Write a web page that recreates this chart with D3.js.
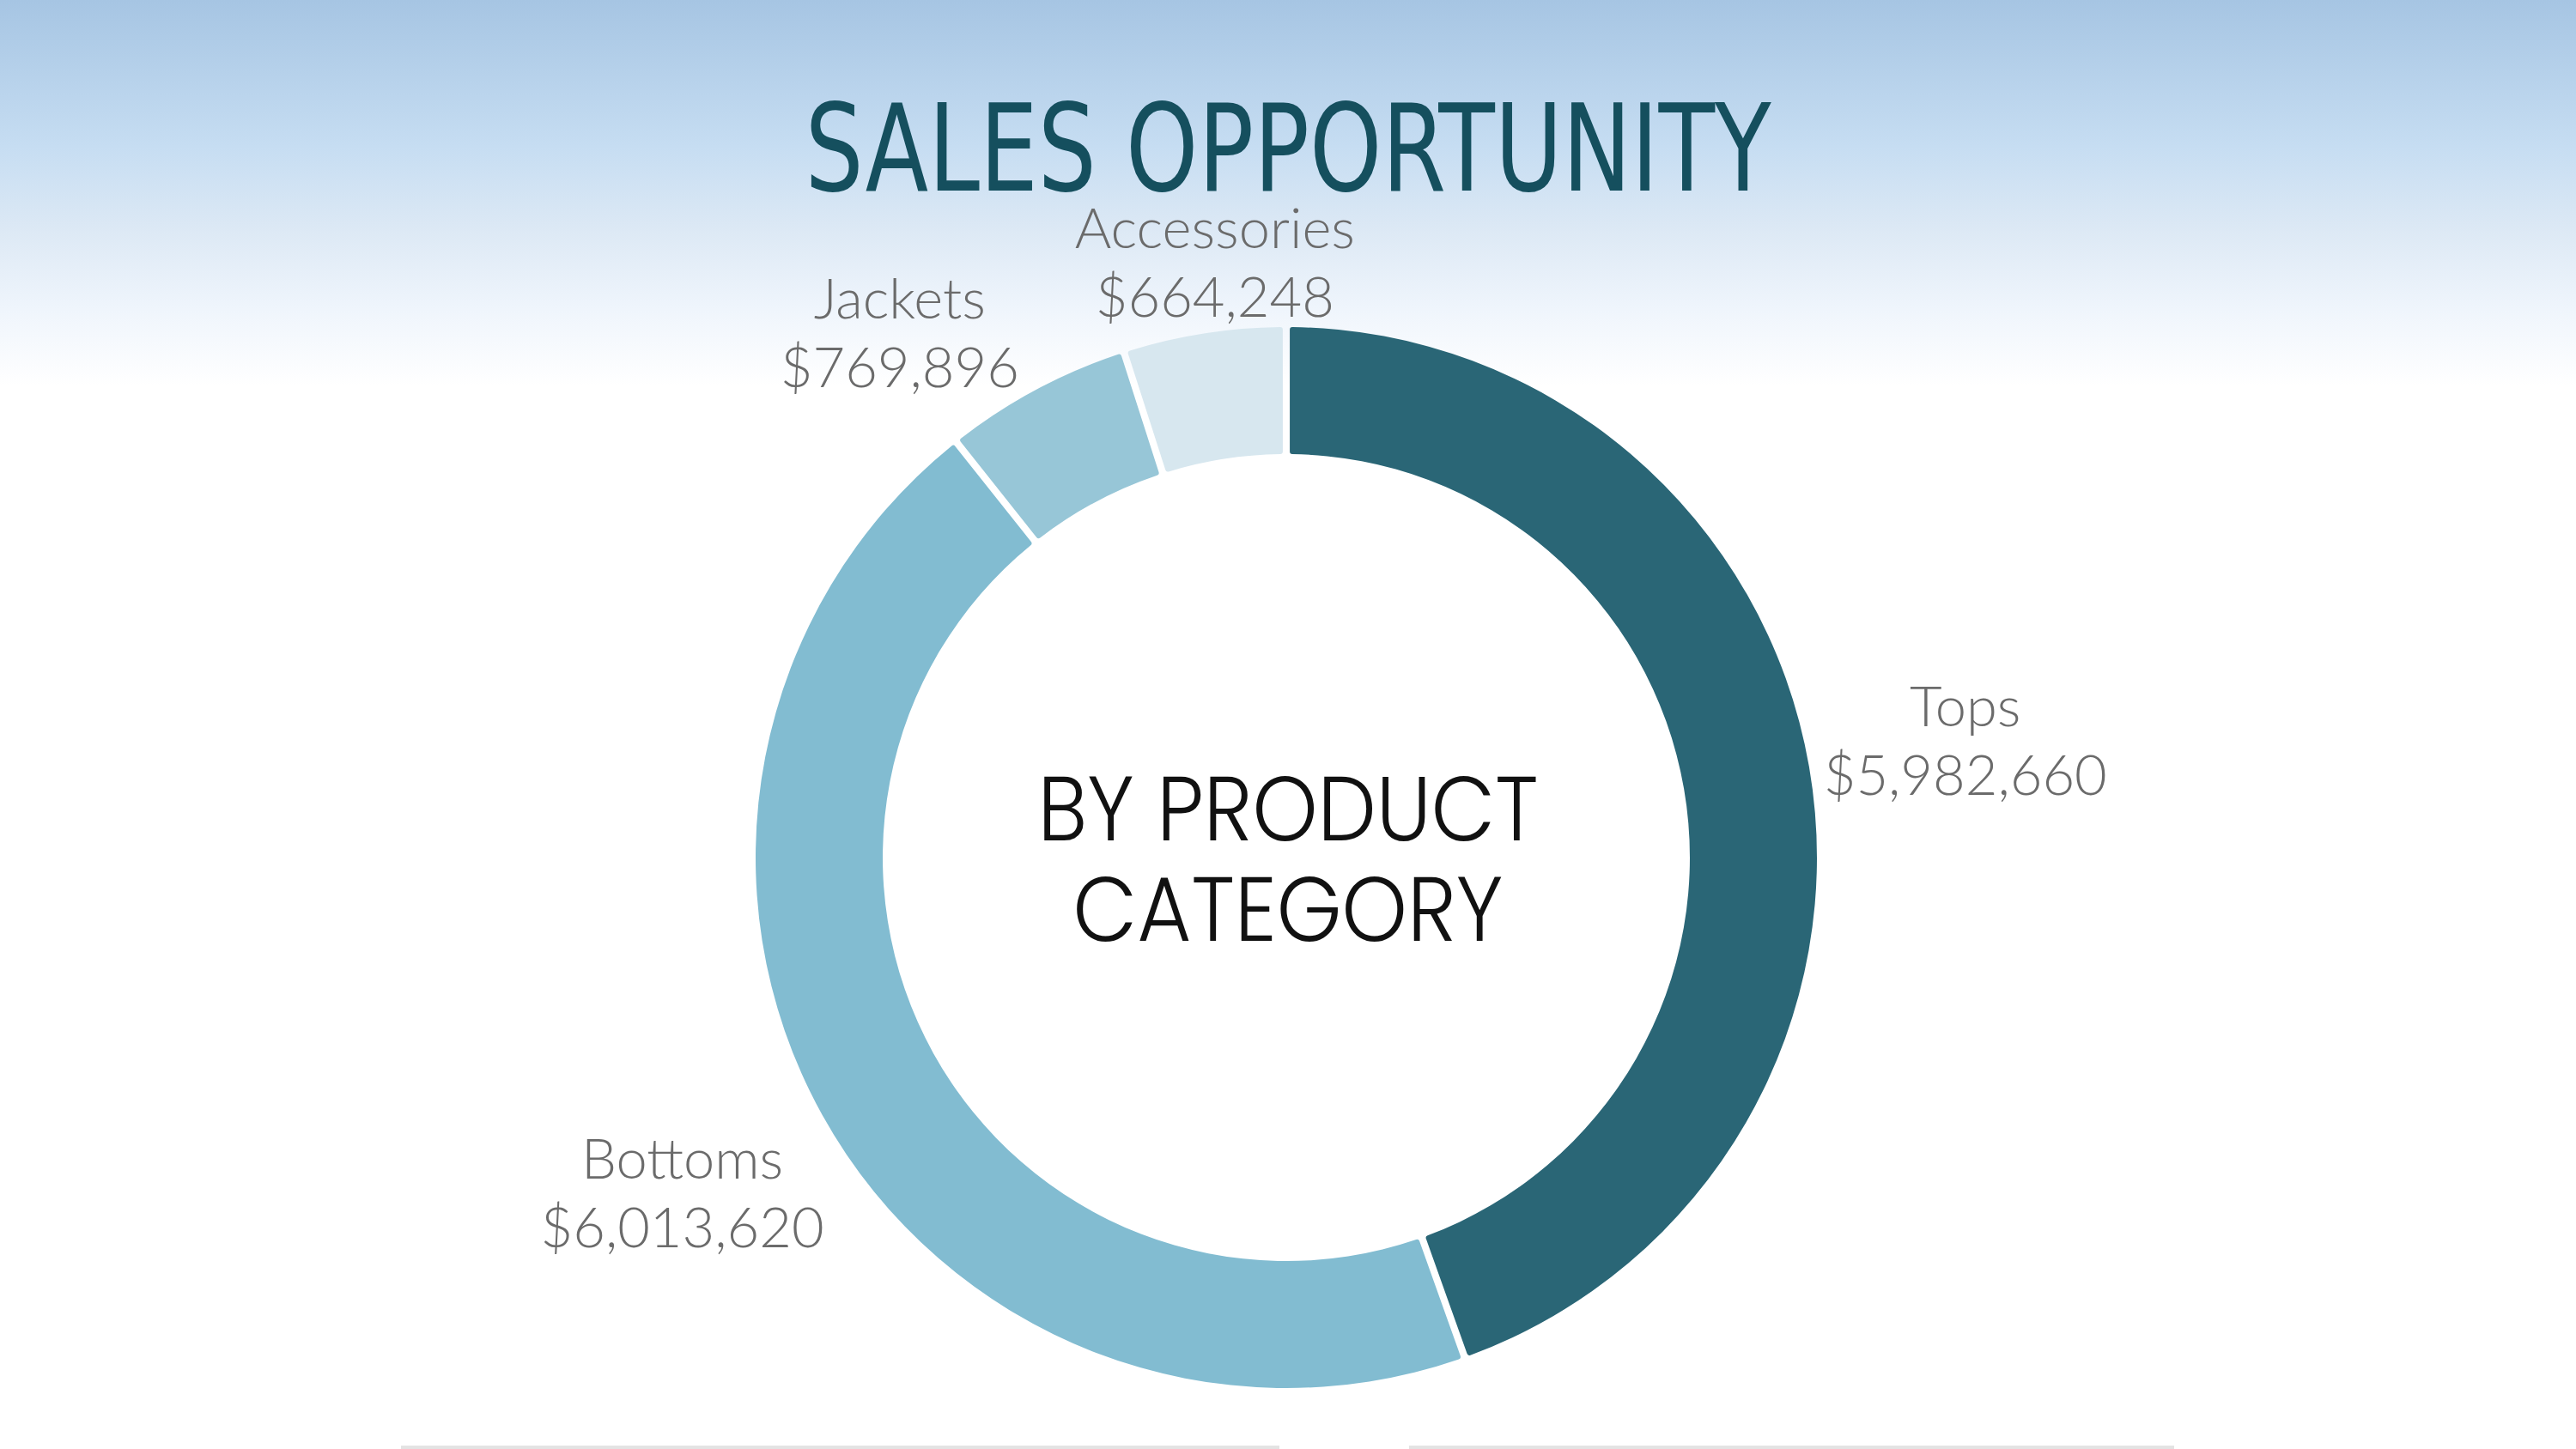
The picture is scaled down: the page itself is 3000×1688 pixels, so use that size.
<!DOCTYPE html>
<html>
<head>
<meta charset="utf-8">
<script src="https://cdn.jsdelivr.net/npm/d3@7"></script>
<style>
  html, body { margin: 0; padding: 0; background: #fff; }
  svg { display: block; }
</style>
</head>
<body>
<div id="chart"></div>
<script>
// ============ Data ============
const categories = ['Tops', 'Bottoms', 'Jackets', 'Accessories'];
const sales      = [5982660, 6013620, 769896, 664248];
const colors     = ['#2a6676', '#82bcd1', '#97c6d7', '#d7e7ef'];

const titleText  = 'SALES OPPORTUNITY';
const centerText = ['BY PRODUCT', 'CATEGORY'];

// ============ Layout ============
const W = 3000, H = 1688;
const cx = 1498, cy = 999;
const outerR = 618, innerR = 470;

const svg = d3.select('#chart')
  .append('svg')
  .attr('width', W)
  .attr('height', H)
  .attr('viewBox', `0 0 ${W} ${H}`);

// ── background fade at the top ──
const defs = svg.append('defs');
const grad = defs.append('linearGradient')
  .attr('id', 'topFade')
  .attr('x1', 0).attr('y1', 0).attr('x2', 0).attr('y2', 1);
[[0, '#a6c5e3'], [0.38, '#c6ddf2'], [0.6, '#dde9f5'], [0.8, '#eff5fc'], [1, '#ffffff']]
  .forEach(([o, c]) => grad.append('stop').attr('offset', o).attr('stop-color', c));

svg.append('rect').attr('width', W).attr('height', H).attr('fill', '#fff');
svg.append('rect').attr('width', W).attr('height', 450).attr('fill', 'url(#topFade)');

// faint rules along the bottom edge
svg.append('rect').attr('x', 467).attr('y', 1684).attr('width', 1023).attr('height', 4).attr('fill', '#e3e3e3');
svg.append('rect').attr('x', 1641).attr('y', 1684).attr('width', 891).attr('height', 4).attr('fill', '#e3e3e3');

// ── title ──
svg.append('text')
  .attr('x', 1500)
  .attr('y', 222)
  .attr('text-anchor', 'middle')
  .attr('font-family', "'Liberation Sans Narrow', 'DejaVu Sans Condensed', sans-serif")
  .attr('font-stretch', 'condensed')
  .attr('font-size', 141)
  .attr('fill', '#154f5e')
  .attr('textLength', 1125)
  .attr('lengthAdjust', 'spacingAndGlyphs')
  .text(titleText);

// ── donut ──
const data = categories.map((c, i) => ({ cat: c, value: sales[i], color: colors[i] }));

const pie = d3.pie()
  .sort(null)
  .value(d => d.value);

const arc = d3.arc()
  .innerRadius(innerR)
  .outerRadius(outerR)
  .padAngle(0.0105)
  .cornerRadius(3);

const g = svg.append('g').attr('transform', `translate(${cx},${cy})`);
const arcs = pie(data);

g.selectAll('path.slice')
  .data(arcs).enter().append('path')
  .attr('class', 'slice')
  .attr('d', arc)
  .attr('fill', d => d.data.color);

// ── outside labels ──
const fmt = d3.format('$,');
const labelFs = 65, lineGap = 80, capH = 0.72 * labelFs;
const labelR = outerR + 12;

const label = g.selectAll('g.label')
  .data(arcs).enter().append('g')
  .attr('class', 'label');

const lt = label.append('text')
  .attr('text-anchor', 'middle')
  .attr('font-family', "Lato, 'Open Sans', sans-serif")
  .attr('font-weight', 300)
  .attr('font-size', labelFs)
  .attr('fill', '#6b6b6b');
lt.append('tspan').attr('x', 0).attr('y', 0).text(d => d.data.cat);
lt.append('tspan').attr('x', 0).attr('y', lineGap).text(d => fmt(d.data.value));

// visual box (cap top of line 1 to baseline of line 2)
const boxes = [];
label.each(function(d, i) {
  const b = this.getBBox();
  boxes[i] = { w: b.width, h: lineGap + capH, angle: (d.startAngle + d.endAngle) / 2 };
});

// nearest point of a box (centre x,y) to the donut centre
function nearest(x, y, w, h) {
  const nx = Math.max(x - w / 2, Math.min(0, x + w / 2));
  const ny = Math.max(y - h / 2, Math.min(0, y + h / 2));
  return Math.hypot(nx, ny);
}
// slide the box out along its angle until its nearest point sits on labelR
function place(bx) {
  const dx = Math.sin(bx.angle), dy = -Math.cos(bx.angle);
  let lo = 0, hi = 2000;
  for (let k = 0; k < 40; k++) {
    const t = (lo + hi) / 2;
    if (nearest(dx * t, dy * t, bx.w, bx.h) < labelR) lo = t; else hi = t;
  }
  bx.x = dx * hi;
  bx.y = dy * hi;
}
function overlap(a, b) {
  return Math.abs(a.x - b.x) < (a.w + b.w) / 2 + 64 && Math.abs(a.y - b.y) < (a.h + b.h) / 2 + 16;
}
boxes.forEach(place);
// spread neighbouring labels apart in angle
for (let it = 0; it < 600; it++) {
  let moved = false;
  for (let i = 0; i < boxes.length; i++) {
    for (let j = i + 1; j < boxes.length; j++) {
      if (overlap(boxes[i], boxes[j])) {
        const lo = boxes[i].angle < boxes[j].angle ? boxes[i] : boxes[j];
        const hi = lo === boxes[i] ? boxes[j] : boxes[i];
        lo.angle -= 0.006;
        hi.angle += 0.0015;
        place(lo); place(hi);
        moved = true;
      }
    }
  }
  if (!moved) break;
}

label.attr('transform', (d, i) => {
  const bx = boxes[i];
  // text origin is the first baseline
  return `translate(${bx.x},${bx.y - bx.h / 2 + capH})`;
});

// ── centre text ──
const ct = svg.append('text')
  .attr('text-anchor', 'middle')
  .attr('font-family', "Poppins, 'Open Sans', 'Noto Sans', sans-serif")
  .attr('font-weight', 300)
  .attr('font-size', 106)
  .attr('fill', '#111');
ct.append('tspan').attr('x', 1500).attr('y', 979)
  .attr('textLength', 583).attr('lengthAdjust', 'spacingAndGlyphs').text(centerText[0]);
ct.append('tspan').attr('x', 1500).attr('y', 1096)
  .attr('textLength', 501).attr('lengthAdjust', 'spacingAndGlyphs').text(centerText[1]);
</script>
</body>
</html>
